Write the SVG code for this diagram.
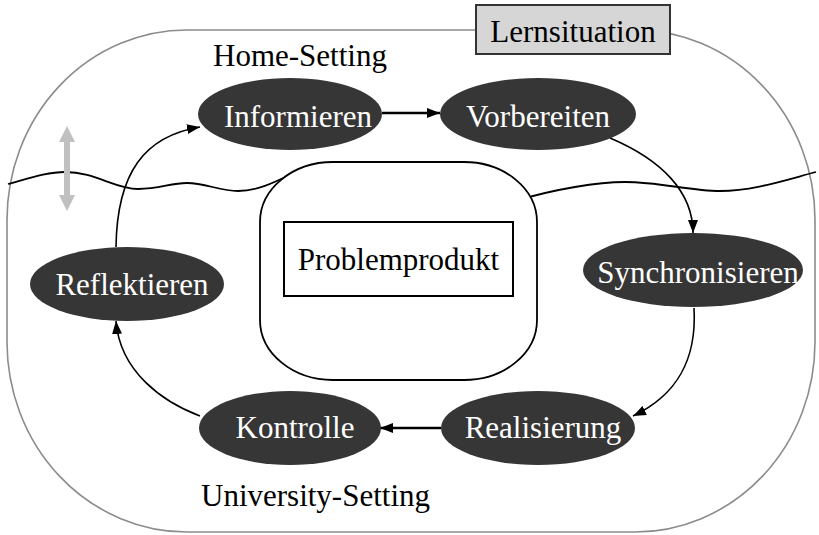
<svg xmlns="http://www.w3.org/2000/svg" width="819" height="535" viewBox="0 0 819 535">
<style>
  text { font-family: "Liberation Serif", "Times New Roman", serif; font-size: 31px; }
  .node ellipse { fill: #363636; stroke: none; }
  .node text { fill: #ffffff; text-anchor: middle; }
  .lbl { fill: #000000; }
  .conn { fill: none; stroke: #000000; stroke-width: 1.6; }
  .straight { stroke-width: 2.4; }
  .wave { fill: none; stroke: #000000; stroke-width: 1.8; }
</style>
<defs>
  <marker id="ah" markerUnits="userSpaceOnUse" markerWidth="14" markerHeight="10" refX="13" refY="5" orient="auto">
    <path d="M0,0 L13,5 L0,10 Z" fill="#000000"/>
  </marker>
</defs>

<g id="outer">
  <rect x="7" y="30" width="808" height="502" rx="180" ry="190" fill="none" stroke="#8c8c8c" stroke-width="1.6"/>
</g>

<g id="wave-line">
  <path class="wave" d="M8,184 C30,178 48,172 65,172 C95,172 115,189 138,189 C160,189 170,183 187,183 C205,183 220,191 238,191 C258,191 275,182 300,170"/>
  <path class="wave" d="M515,201 C555,189 598,182 625,182 C660,182 690,191 720,191 C752,191 782,181 816,172"/>
</g>

<g id="setting-arrow">
  <rect x="64" y="139" width="6" height="58" fill="#c0c0c0"/>
  <polygon points="67,126 59,142 75,142" fill="#c0c0c0"/>
  <polygon points="67,211 59,195 75,195" fill="#c0c0c0"/>
</g>

<g id="center">
  <rect x="260" y="162" width="277" height="218" rx="73" ry="60" fill="#ffffff" stroke="#000000" stroke-width="1.8"/>
</g>

<g id="problemprodukt">
  <rect x="284" y="222" width="229" height="74" fill="#ffffff" stroke="#000000" stroke-width="2"/>
  <text class="lbl" x="398.5" y="270" text-anchor="middle">Problemprodukt</text>
</g>

<g id="lernsituation">
  <rect x="476" y="5" width="194" height="49" fill="#d6d6d6" stroke="#333333" stroke-width="2"/>
  <text class="lbl" x="573" y="42" text-anchor="middle">Lernsituation</text>
</g>

<g id="home-setting">
  <text class="lbl" x="213" y="66">Home-Setting</text>
</g>

<g id="university-setting">
  <text class="lbl" x="201" y="506">University-Setting</text>
</g>

<g id="connectors">
  <path class="conn straight" d="M382,113 L440,113" marker-end="url(#ah)"/>
  <path class="conn" d="M610,138 C662,160 693,192 693,233" marker-end="url(#ah)"/>
  <path class="conn" d="M694,308 C697,360 677,395 633,416" marker-end="url(#ah)"/>
  <path class="conn straight" d="M441,428 L380,428" marker-end="url(#ah)"/>
  <path class="conn" d="M200,416 C163,402 120,372 116,321" marker-end="url(#ah)"/>
  <path class="conn" d="M116,247 C117,172 145,136 200,127" marker-end="url(#ah)"/>
</g>

<g id="informieren" class="node">
  <ellipse cx="290" cy="114" rx="92" ry="36"/>
  <text x="298" y="127">Informieren</text>
</g>
<g id="vorbereiten" class="node">
  <ellipse cx="538" cy="114" rx="98" ry="36"/>
  <text x="538" y="127">Vorbereiten</text>
</g>
<g id="synchronisieren" class="node">
  <ellipse cx="693" cy="270" rx="110" ry="37"/>
  <text x="698" y="283">Synchronisieren</text>
</g>
<g id="realisierung" class="node">
  <ellipse cx="538" cy="428" rx="97" ry="37"/>
  <text x="543" y="438">Realisierung</text>
</g>
<g id="kontrolle" class="node">
  <ellipse cx="290" cy="428" rx="91" ry="37"/>
  <text x="295" y="438">Kontrolle</text>
</g>
<g id="reflektieren" class="node">
  <ellipse cx="127" cy="284" rx="97" ry="37"/>
  <text x="132" y="295">Reflektieren</text>
</g>
</svg>
